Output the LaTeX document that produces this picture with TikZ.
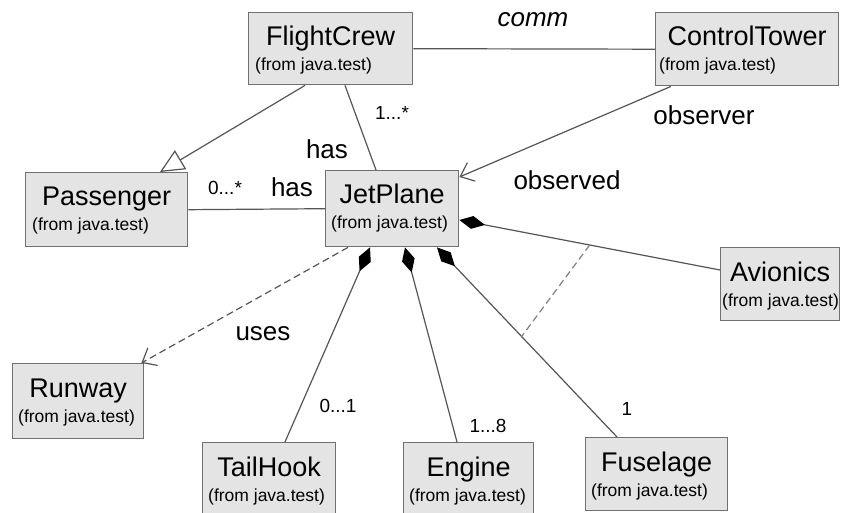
\documentclass[tikz,border=0pt]{standalone}
\usepackage{fontspec}
\setmainfont{Liberation Sans}
\usetikzlibrary{arrows.meta,calc}
\definecolor{boxfill}{HTML}{E4E4E4}
\definecolor{boxborder}{HTML}{707070}
\definecolor{linecol}{HTML}{555555}
\newcommand{\umlclass}[7]{%
  \node[umlbox, anchor=north west, minimum width=#4pt, minimum height=#5pt] (#1) at (#2,#3) {};
  \node[titletext] (#1-name) at ([yshift=-34pt]#1.north) {#6};
  \node[fromtext] (#1-from) at ([xshift=#7pt,yshift=-59pt]#1.north west) {(from java.test)};
}
\begin{document}
\begin{tikzpicture}[x=1pt,y=-1pt,
  umlbox/.style={draw=boxborder, line width=1.4pt, fill=boxfill, inner sep=0pt, rectangle},
  titletext/.style={font=\fontsize{27}{27}\selectfont, inner sep=0pt, anchor=base},
  fromtext/.style={font=\fontsize{17.5}{17.5}\selectfont, inner sep=0pt, anchor=base west},
  lbl/.style={font=\fontsize{26}{26}\selectfont, inner sep=0pt, anchor=base},
  mult/.style={font=\fontsize{19}{19}\selectfont, inner sep=0pt, anchor=base},
  conn/.style={draw=linecol, line width=1.2pt},
  comp/.style={conn, {Diamond[length=26pt,width=13pt,fill=black,color=black]}-},
  opentip/.style={-{Straight Barb[length=12pt,width=20pt,line width=1.2pt]}},
  gentip/.style={-{Triangle[open,fill=white,length=24pt,width=22pt,line width=1.2pt]}}
]
\useasboundingbox[fill=white] (0,0) rectangle (841,513);

\umlclass{fc}{248}{12}{164}{72}{FlightCrew}{7}
\umlclass{ct}{655}{12}{183}{73}{ControlTower}{4}
\umlclass{pass}{25}{172}{162}{74}{Passenger}{7}
\umlclass{jet}{325}{170}{133}{76}{JetPlane}{6}
\umlclass{av}{720}{247}{119}{73}{Avionics}{2}
\umlclass{rw}{12}{363}{131}{75}{Runway}{6}
\umlclass{th}{202}{442}{133}{75}{TailHook}{6}
\umlclass{en}{403}{442}{130}{75}{Engine}{6}
\umlclass{fu}{585}{437}{142}{73}{Fuselage}{6}

% associations
\draw[conn] (fc.east) -- (ct.west);
\draw[conn] ([xshift=97pt]fc.south west) -- ([xshift=51pt]jet.north west);
\draw[conn] (pass.east) -- (jet.west);
\draw[conn, gentip] ([xshift=57pt]fc.south west) -- ([xshift=135pt]pass.north west);
\draw[conn, opentip] ([xshift=16pt]ct.south west) -- ([yshift=-7pt]jet.north east);
\draw[conn, opentip, dash pattern=on 7pt off 4pt] ([xshift=23pt]jet.south west) -- ([xshift=-3pt]rw.north east);

% compositions
\draw[comp] ([xshift=45pt]jet.south west) -- ([xshift=83pt]th.north west);
\draw[comp] ([xshift=80pt]jet.south west) -- ([xshift=54pt]en.north west);
\draw[comp] ([xshift=112pt]jet.south west) -- coordinate[pos=0.47] (dfu) ([xshift=32pt]fu.north west);
\draw[comp] ([yshift=-50pt]jet.north east) -- coordinate[pos=0.5] (dav) ([yshift=-23pt]av.north west);
\draw[conn, draw=gray, dash pattern=on 7pt off 4pt] (dav) -- (dfu);

% labels
\node[lbl, font=\fontsize{26}{26}\selectfont\itshape] (l-comm) at (533,27) {comm};
\node[lbl] (l-has1) at (327,159) {has};
\node[mult] (l-m1) at (392,120) {1...*};
\node[mult] (l-m2) at (225,195) {0...*};
\node[lbl] (l-has2) at (292,197) {has};
\node[lbl] (l-obsr) at (704,125) {observer};
\node[lbl] (l-obsd) at (567,190) {observed};
\node[lbl] (l-uses) at (263,340) {uses};
\node[mult] (l-m3) at (338,412) {0...1};
\node[mult] (l-m4) at (488,432) {1...8};
\node[mult] (l-m5) at (627,415) {1};
\end{tikzpicture}
\end{document}
